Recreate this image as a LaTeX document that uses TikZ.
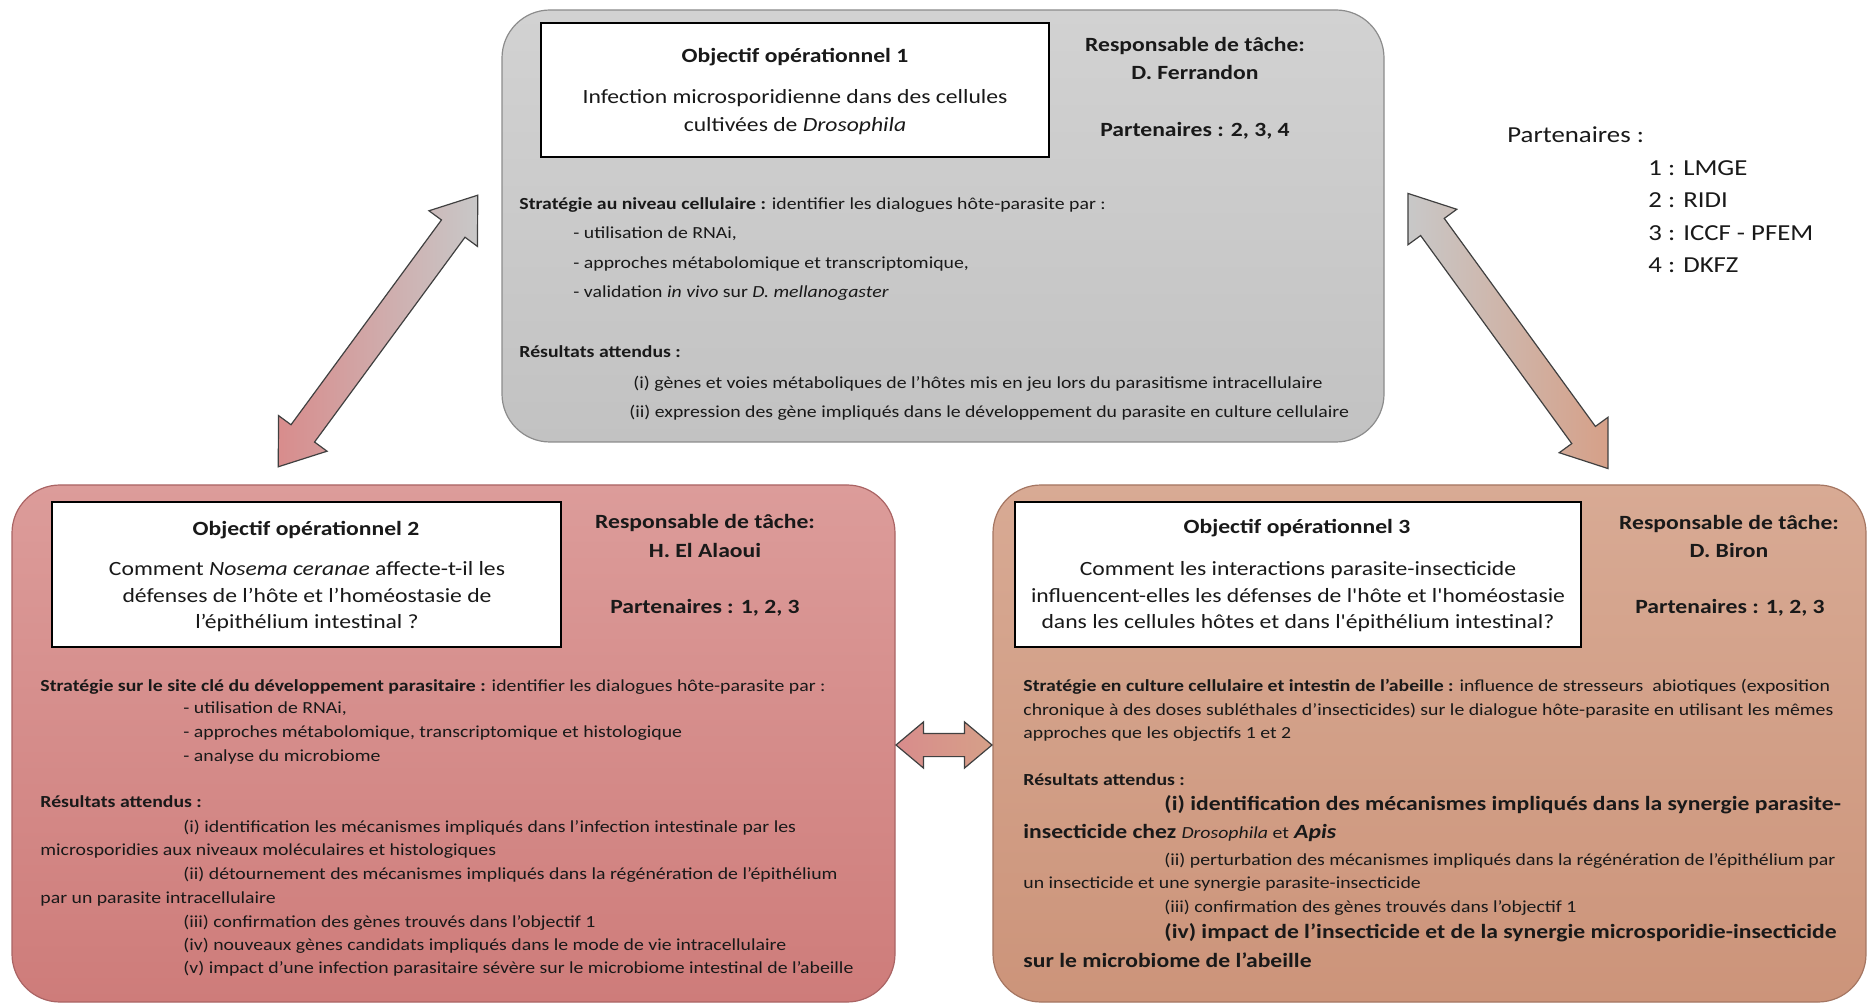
\documentclass[tikz,border=0pt]{standalone}
\usepackage{fontspec}
\setmainfont{Carlito}[FakeStretch=1.17, Ligatures=TeXOff]
\usepackage{tikz}
\usetikzlibrary{shapes.arrows}

\definecolor{grishaut}{RGB}{210,210,210}
\definecolor{grisbas}{RGB}{194,194,194}
\definecolor{grisbord}{RGB}{140,140,140}
\definecolor{rosehaut}{RGB}{220,156,154}
\definecolor{rosebas}{RGB}{206,124,122}
\definecolor{rosebord}{RGB}{170,100,100}
\definecolor{tanhaut}{RGB}{216,170,148}
\definecolor{tanbas}{RGB}{204,148,122}
\definecolor{tanbord}{RGB}{165,118,98}
\definecolor{grisfl}{RGB}{200,200,200}
\definecolor{rosefl}{RGB}{216,140,140}
\definecolor{tanfl}{RGB}{214,160,136}

\tikzset{
	bloc/.style={rounded corners=24pt, draw=#1, line width=0.6pt, inner sep=0},
	titre/.style={draw=black, fill=white, line width=1pt, inner sep=0},
	tete/.style={font=\bfseries\fontsize{10.1}{12}\selectfont, anchor=base, inner sep=0, text=black!90},
	sous/.style={font=\fontsize{10.1}{12}\selectfont, anchor=base, inner sep=0, text=black!90},
	corps/.style={font=\fontsize{8.45}{10}\selectfont, anchor=base west, inner sep=0, text=black!90},
	gros/.style={font=\bfseries\fontsize{10.1}{12}\selectfont, anchor=base west, inner sep=0, text=black!90},
	legende/.style={font=\fontsize{11.45}{14}\selectfont, anchor=base west, inner sep=0, text=black!90},
	fleche/.style={double arrow, draw=black!75, line width=0.6pt, inner xsep=0}
}

\begin{document}
\begin{tikzpicture}[x=0.5pt, y=-0.5pt]
	
	\fill[white] (0,0) rectangle (1869,1005);
	
	% les trois blocs
	\node[bloc=grisbord, top color=grishaut, bottom color=grisbas, minimum width=441pt, minimum height=216pt] (b1) at (943,226) {};
	\node[bloc=rosebord, top color=rosehaut, bottom color=rosebas, minimum width=441.5pt, minimum height=258.5pt] (b2) at (453.5,743.5) {};
	\node[bloc=tanbord, top color=tanhaut, bottom color=tanbas, minimum width=436.5pt, minimum height=258.5pt] (b3) at (1429.5,743.5) {};
	
	% objectif 1
	\node[titre, minimum width=254pt, minimum height=67pt] (o1) at (795,90) {};
	\node[tete] (o1h) at (795,63) {Objectif opérationnel 1};
	\node[sous] (o1a) at (795,104) {Infection microsporidienne dans des cellules};
	\node[sous] (o1b) at (795,132) {cultivées de \textit{Drosophila}};
	\node[tete] (r1a) at (1195,52) {Responsable de tâche:};
	\node[tete] (r1b) at (1195,80) {D. Ferrandon};
	\node[tete] (p1) at (1195,137) {Partenaires : 2, 3, 4};
	
	\node[corps] (s1a) at (519,210) {\textbf{Stratégie au niveau cellulaire :} identifier les dialogues hôte-parasite par :};
	\node[corps] (s1b) at (573,239) {- utilisation de RNAi,};
	\node[corps] (s1c) at (573,269) {- approches métabolomique et transcriptomique,};
	\node[corps] (s1d) at (573,298) {- validation \textit{in vivo} sur \textit{D. mellanogaster}};
	\node[corps] (e1a) at (519,358) {\textbf{Résultats attendus :}};
	\node[corps] (e1b) at (633,389) {(i) gènes et voies métaboliques de l’hôtes mis en jeu lors du parasitisme intracellulaire};
	\node[corps] (e1c) at (629,418) {(ii) expression des gène impliqués dans le développement du parasite en culture cellulaire};
	
	% objectif 2
	\node[titre, minimum width=254.5pt, minimum height=72.5pt] (o2) at (306.5,574.5) {};
	\node[tete] (o2h) at (306,535) {Objectif opérationnel 2};
	\node[sous] (o2a) at (307,575) {Comment \textit{Nosema ceranae} affecte-t-il les};
	\node[sous] (o2b) at (307,603) {défenses de l’hôte et l’homéostasie de};
	\node[sous] (o2c) at (307,628) {l’épithélium intestinal ?};
	\node[tete] (r2a) at (705,529) {Responsable de tâche:};
	\node[tete] (r2b) at (705,557) {H. El Alaoui};
	\node[tete] (p2) at (705,613) {Partenaires : 1, 2, 3};
	
	\node[corps] (s2a) at (40,691) {\textbf{Stratégie sur le site clé du développement parasitaire :} identifier les dialogues hôte-parasite par :};
	\node[corps] (s2b) at (183,713) {- utilisation de RNAi,};
	\node[corps] (s2c) at (183,737) {- approches métabolomique, transcriptomique et histologique};
	\node[corps] (s2d) at (183,761) {- analyse du microbiome};
	\node[corps] (e2a) at (40,807) {\textbf{Résultats attendus :}};
	\node[corps] (e2b) at (183,832) {(i) identification les mécanismes impliqués dans l’infection intestinale par les};
	\node[corps] (e2c) at (40,855) {microsporidies aux niveaux moléculaires et histologiques};
	\node[corps] (e2d) at (183,879) {(ii) détournement des mécanismes impliqués dans la régénération de l’épithélium};
	\node[corps] (e2e) at (40,903) {par un parasite intracellulaire};
	\node[corps] (e2f) at (183,927) {(iii) confirmation des gènes trouvés dans l’objectif 1};
	\node[corps] (e2g) at (183,950) {(iv) nouveaux gènes candidats impliqués dans le mode de vie intracellulaire};
	\node[corps] (e2h) at (183,973) {(v) impact d’une infection parasitaire sévère sur le microbiome intestinal de l’abeille};
	
	% objectif 3
	\node[titre, minimum width=283pt, minimum height=72.5pt] (o3) at (1298,574.5) {};
	\node[tete] (o3h) at (1297,533) {Objectif opérationnel 3};
	\node[sous] (o3a) at (1298,575) {Comment les interactions parasite-insecticide};
	\node[sous] (o3b) at (1298,603) {influencent-elles les défenses de l'hôte et l'homéostasie};
	\node[sous] (o3c) at (1298,628) {dans les cellules hôtes et dans l'épithélium intestinal?};
	\node[tete] (r3a) at (1729,530) {Responsable de tâche:};
	\node[tete] (r3b) at (1729,557) {D. Biron};
	\node[tete] (p3) at (1730,613) {Partenaires : 1, 2, 3};
	
	\node[corps] (s3a) at (1023,691) {\textbf{Stratégie en culture cellulaire et intestin de l’abeille :} influence de stresseurs \ abiotiques (exposition};
	\node[corps] (s3b) at (1023,715) {chronique à des doses subléthales d’insecticides) sur le dialogue hôte-parasite en utilisant les mêmes};
	\node[corps] (s3c) at (1023,738) {approches que les objectifs 1 et 2};
	\node[corps] (e3a) at (1023,785) {\textbf{Résultats attendus :}};
	\node[gros] (e3b) at (1164,810) {(i) identification des mécanismes impliqués dans la synergie parasite-};
	\node[gros] (e3c) at (1023,838) {insecticide chez {\mdseries\itshape\fontsize{8.45}{10}\selectfont Drosophila}{\mdseries\fontsize{8.45}{10}\selectfont{} et} \textit{Apis}};
	\node[corps] (e3d) at (1164,865) {(ii) perturbation des mécanismes impliqués dans la régénération de l’épithélium par};
	\node[corps] (e3e) at (1023,888) {un insecticide et une synergie parasite-insecticide};
	\node[corps] (e3f) at (1164,912) {(iii) confirmation des gènes trouvés dans l’objectif 1};
	\node[gros] (e3g) at (1164,938) {(iv) impact de l’insecticide et de la synergie microsporidie-insecticide};
	\node[gros] (e3h) at (1023,967) {sur le microbiome de l’abeille};
	
	% partenaires
	\node[legende] (pa) at (1507,143) {Partenaires :};
	\node[legende] (pa1) at (1648,176) {1 : LMGE};
	\node[legende] (pa2) at (1648,208) {2 : RIDI};
	\node[legende] (pa3) at (1648,241) {3 : ICCF - PFEM};
	\node[legende] (pa4) at (1648,273) {4 : DKFZ};
	
	% fleches
	\node[fleche, inner ysep=7pt, minimum height=168.5pt, minimum width=29.5pt, double arrow head extend=7.75pt, double arrow tip angle=72, rotate=53.7, left color=rosefl, right color=grisfl] (f12) at (378,331) {};
	\node[fleche, inner ysep=7pt, minimum height=170pt, minimum width=29.5pt, double arrow head extend=7.75pt, double arrow tip angle=72, rotate=-54, left color=grisfl, right color=tanfl] (f13) at (1508,331) {};
	\node[fleche, inner ysep=5.5pt, minimum height=48pt, minimum width=22.5pt, double arrow head extend=5.75pt, double arrow tip angle=80, left color=rosefl, right color=tanfl] (f23) at (944,745) {};
	
\end{tikzpicture}
\end{document}
